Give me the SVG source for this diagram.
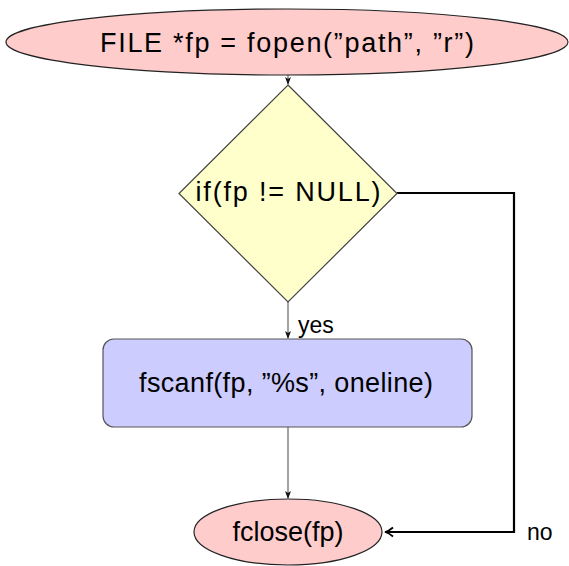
<svg xmlns="http://www.w3.org/2000/svg" width="569" height="566" viewBox="0 0 569 566">
  <style>
    .lbl { font-family: "Liberation Sans", "DejaVu Sans", sans-serif; font-size: 27px; fill: #000; }
    .edge-lbl { font-family: "Liberation Sans", "DejaVu Sans", sans-serif; font-size: 23px; fill: #000; }
    .term { fill: #ffcccc; stroke: #222; stroke-width: 1.2; }
    .dec { fill: #ffffcc; stroke: #444; stroke-width: 1.2; }
    .proc { fill: #ccccff; stroke: #555; stroke-width: 1.2; }
    .flow { fill: none; stroke: #666; stroke-width: 1.2; }
    .flow-no { fill: none; stroke: #000; stroke-width: 2.2; }
  </style>
  <defs>
    <marker id="tip" viewBox="0 0 8 8" refX="7" refY="4" markerWidth="8" markerHeight="8" markerUnits="userSpaceOnUse" orient="auto">
      <path d="M0,1 L8,4 L0,7 L2,4 Z" fill="#111"/>
    </marker>
    <marker id="open" viewBox="0 0 12 12" refX="10" refY="6" markerWidth="12" markerHeight="12" markerUnits="userSpaceOnUse" orient="auto">
      <path d="M2,1.5 Q6,5 10,6 Q6,7 2,10.5" fill="none" stroke="#000" stroke-width="1.8"/>
    </marker>
  </defs>

  <g id="connectors">
    <line class="flow" x1="288" y1="75" x2="288" y2="84" marker-end="url(#tip)"/>
    <line class="flow" x1="288" y1="302" x2="288" y2="338" marker-end="url(#tip)"/>
    <line class="flow" x1="288" y1="427" x2="288" y2="498" marker-end="url(#tip)"/>
    <polyline class="flow-no" points="397,193 514,193 514,532 385,532" marker-end="url(#open)"/>
    <text class="edge-lbl" x="298" y="333">yes</text>
    <text class="edge-lbl" x="527" y="540">no</text>
  </g>

  <g id="open-file">
    <ellipse class="term" cx="287" cy="42" rx="281" ry="33"/>
    <text class="lbl" x="287" y="52" text-anchor="middle" font-size="28" textLength="374" lengthAdjust="spacing">FILE *fp = fopen(”path”, ”r”)</text>
  </g>

  <g id="check-null">
    <polygon class="dec" points="288,85 397,193.5 288,302 179,193.5"/>
    <text class="lbl" x="288" y="201" text-anchor="middle" textLength="185" lengthAdjust="spacing">if(fp != NULL)</text>
  </g>

  <g id="read-line">
    <rect class="proc" x="103" y="339" width="369" height="88" rx="11" ry="11"/>
    <text class="lbl" x="286" y="392" text-anchor="middle" textLength="294" lengthAdjust="spacing">fscanf(fp, ”%s”, oneline)</text>
  </g>

  <g id="close-file">
    <ellipse class="term" cx="288" cy="532" rx="94" ry="33"/>
    <text class="lbl" x="288" y="541" text-anchor="middle" textLength="111" lengthAdjust="spacing">fclose(fp)</text>
  </g>
</svg>
